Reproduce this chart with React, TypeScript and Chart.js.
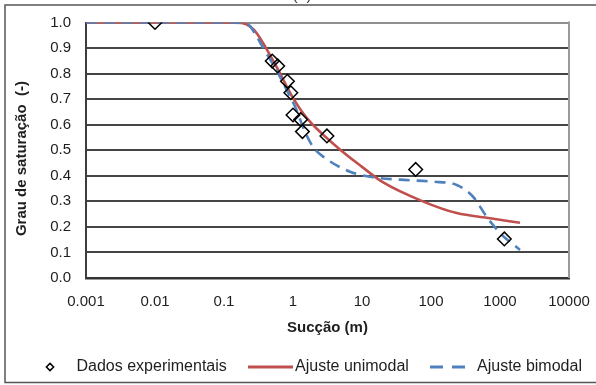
import React, { useEffect, useRef } from "react";
import { Chart, registerables } from "chart.js";

Chart.register(...registerables);

// ---- Data ----
const xTickValues = [0.001, 0.01, 0.1, 1, 10, 100, 1000, 10000];
const xTickLabels = ["0.001", "0.01", "0.1", "1", "10", "100", "1000", "10000"];
const yTickLabels = ["0.0", "0.1", "0.2", "0.3", "0.4", "0.5", "0.6", "0.7", "0.8", "0.9", "1.0"];

const seriesNames = ["Dados experimentais", "Ajuste unimodal", "Ajuste bimodal"];
const xTitle = "Sucção (m)";
const yTitle = "Grau de saturação  (-)";
const panelLabel = "(a)";

const expX = [0.01, 0.5, 0.6, 0.83, 0.93, 1.0, 1.29, 1.37, 3.1, 60, 1155];
const expY = [1.0, 0.849, 0.83, 0.77, 0.725, 0.638, 0.62, 0.573, 0.556, 0.425, 0.153];

const uniX = [0.001, 0.01, 0.1, 0.18, 0.24, 0.3, 0.575, 1, 1.6, 4.3, 10, 20, 76, 236, 716, 1950];
const uniY = [1, 1, 1, 0.998, 0.984, 0.957, 0.827, 0.705, 0.625, 0.514, 0.435, 0.375, 0.3, 0.254, 0.234, 0.216];

const biX = [0.001, 0.01, 0.1, 0.2, 0.24, 0.28, 0.4, 0.575, 0.81, 1.13, 1.4, 1.95, 2.9, 6.7, 13, 35, 107, 236, 407, 640, 1000, 1950];
const biY = [1, 1, 1, 0.998, 0.985, 0.957, 0.885, 0.814, 0.736, 0.657, 0.59, 0.513, 0.47, 0.416, 0.396, 0.385, 0.377, 0.364, 0.318, 0.24, 0.176, 0.11];

// ---- Styles ----
const RED = "#C0504D";
const BLUE = "#4F81BD";
const FONT = '"Liberation Sans", Arial, sans-serif';
const TEXT = "#1e1e1e";

const toPts = (xs: number[], ys: number[]) => xs.map((x, i) => ({ x, y: ys[i] }));

const decorPlugin = {
  id: "decor",
  afterDraw(chart: any) {
    const { ctx, chartArea: a } = chart;
    ctx.save();
    // right border of plot area
    ctx.strokeStyle = "#9a9a9a";
    ctx.lineWidth = 2;
    ctx.beginPath();
    ctx.moveTo(a.right, a.top - 1);
    ctx.lineTo(a.right, a.bottom);
    ctx.stroke();

    // outer frame
    ctx.strokeStyle = "#555";
    ctx.lineWidth = 1.5;
    ctx.strokeRect(5, 5, 700, 377.5);

    // panel label (cut off at top)
    ctx.fillStyle = "#444";
    ctx.font = `16px ${FONT}`;
    ctx.textAlign = "center";
    ctx.textBaseline = "alphabetic";
    ctx.fillText(panelLabel, 302, 0);

    // legend
    const ly = 367;
    ctx.font = `16px ${FONT}`;
    ctx.fillStyle = TEXT;
    ctx.textAlign = "left";
    ctx.textBaseline = "middle";
    // diamond
    const r = 3.6;
    ctx.strokeStyle = "#000";
    ctx.lineWidth = 1.5;
    ctx.beginPath();
    ctx.moveTo(50, ly - r);
    ctx.lineTo(50 + r, ly);
    ctx.lineTo(50, ly + r);
    ctx.lineTo(50 - r, ly);
    ctx.closePath();
    ctx.stroke();
    ctx.fillText(seriesNames[0], 76.5, ly);
    // red line
    ctx.strokeStyle = RED;
    ctx.lineWidth = 3;
    ctx.beginPath();
    ctx.moveTo(248, ly);
    ctx.lineTo(293, ly);
    ctx.stroke();
    ctx.fillText(seriesNames[1], 295, ly);
    // blue dashes
    ctx.strokeStyle = BLUE;
    ctx.setLineDash([13, 9]);
    ctx.beginPath();
    ctx.moveTo(430, ly);
    ctx.lineTo(466, ly);
    ctx.stroke();
    ctx.setLineDash([]);
    ctx.fillText(seriesNames[2], 477, ly);
    ctx.restore();
  },
};

export default function App() {
  const ref = useRef<HTMLCanvasElement | null>(null);

  useEffect(() => {
    if (!ref.current) return;
    const chart = new Chart(ref.current, {
      type: "line",
      data: {
        datasets: [
          {
            label: seriesNames[0],
            data: toPts(expX, expY),
            showLine: false,
            pointStyle: "rectRot",
            pointRadius: 6.8,
            pointBorderWidth: 1.5,
            pointBorderColor: "#000",
            pointBackgroundColor: "rgba(0,0,0,0)",
            order: 0,
          } as any,
          {
            label: seriesNames[2],
            data: toPts(biX, biY),
            borderColor: BLUE,
            borderWidth: 2.6,
            borderDash: [11, 7],
            pointRadius: 0,
            cubicInterpolationMode: "monotone",
            fill: false,
            order: 1,
          },
          {
            label: seriesNames[1],
            data: toPts(uniX, uniY),
            borderColor: RED,
            borderWidth: 2.6,
            pointRadius: 0,
            cubicInterpolationMode: "monotone",
            fill: false,
            order: 2,
          },
        ],
      },
      options: {
        animation: false,
        responsive: false,
        devicePixelRatio: 1,
        layout: { padding: { left: 0, right: 27, top: 22.5, bottom: 0 } },
        plugins: { legend: { display: false }, tooltip: { enabled: false } },
        scales: {
          x: {
            type: "logarithmic",
            min: 0.001,
            max: 10000,
            afterBuildTicks: (scale: any) => {
              scale.ticks = xTickValues.map((v) => ({ value: v }));
            },
            afterFit: (scale: any) => {
              scale.height = 107;
              scale.paddingLeft = 0;
              scale.paddingRight = 0;
            },
            ticks: {
              autoSkip: false,
              maxRotation: 0,
              padding: 14.7,
              color: TEXT,
              font: { family: FONT, size: 15 },
              callback: (_v: any, i: number) => xTickLabels[i],
            },
            grid: { display: false, drawTicks: false },
            border: { display: true, color: "#333", width: 2.5 },
            title: {
              display: true,
              text: xTitle,
              color: TEXT,
              font: { family: FONT, size: 15, weight: "bold" },
              padding: { top: 0, bottom: 48 },
            },
          },
          y: {
            type: "linear",
            min: 0,
            max: 1,
            afterFit: (scale: any) => {
              scale.width = 86;
              scale.paddingTop = 0;
              scale.paddingBottom = 0;
            },
            ticks: {
              stepSize: 0.1,
              padding: 15,
              color: TEXT,
              font: { family: FONT, size: 15 },
              callback: (_v: any, i: number) => yTickLabels[i],
            },
            grid: {
              drawTicks: false,
              lineWidth: 2,
              color: (c: any) => (c.tick && Math.abs(c.tick.value - 1) < 1e-6 ? "#8f8f8f" : "#454545"),
            },
            border: { display: true, color: "#3d3d3d", width: 2 },
            title: {
              display: true,
              text: yTitle + "    ",
              color: TEXT,
              font: { family: FONT, size: 15, weight: "bold" },
              padding: { top: 13, bottom: 0 },
            },
          },
        },
      },
      plugins: [decorPlugin],
    });
    return () => chart.destroy();
  }, []);

  return (
    <div style={{ position: "absolute", left: 0, top: 0, width: 596, height: 385, background: "#fff" }}>
      <canvas ref={ref} width={596} height={385} style={{ width: 596, height: 385, display: "block" }} />
    </div>
  );
}
